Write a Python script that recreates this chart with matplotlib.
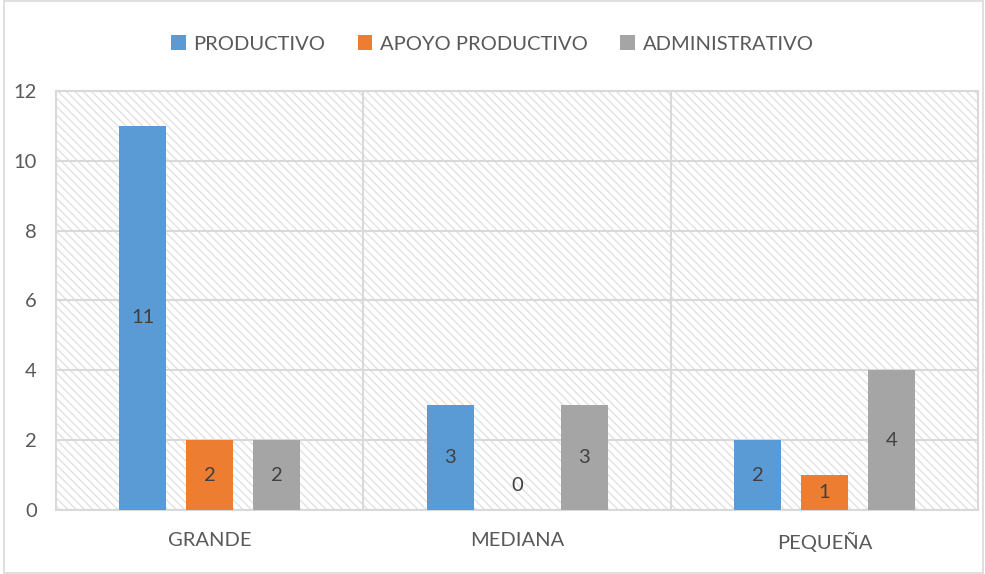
import numpy as np
import matplotlib
matplotlib.use('Agg')
import matplotlib.pyplot as plt
from matplotlib.patches import Rectangle

categories = ['GRANDE', 'MEDIANA', 'PEQUEÑA']
series = ['PRODUCTIVO', 'APOYO PRODUCTIVO', 'ADMINISTRATIVO']
productivo = [11, 3, 2]
apoyo = [2, 0, 1]
administrativo = [2, 3, 4]
colors = ['#5b9bd5', '#ed7d31', '#a5a5a5']

plt.rcParams['font.family'] = ['Lato', 'DejaVu Sans']
plt.rcParams['hatch.linewidth'] = 1.0

fig = plt.figure(figsize=(9.85, 5.74), dpi=100)
fig.patches.append(Rectangle((0.004, 0.001), 0.994, 0.997, transform=fig.transFigure,
                             fill=False, edgecolor='#d9d9d9', linewidth=1.2))
ax = fig.add_axes([0.057, 0.1115, 0.936, 0.73])

grid_c = '#d9d9d9'
text_c = '#595959'

# hatched plot area
ax.add_patch(Rectangle((0, 0), 1, 1, transform=ax.transAxes, facecolor='white',
                       edgecolor='#e2e2e2', hatch='\\\\\\\\', linewidth=0, zorder=0))

x = np.arange(len(categories))
offset = 0.218
width = 0.153
data = [productivo, apoyo, administrativo]
for j, (vals, name, c) in enumerate(zip(data, series, colors)):
    bars = ax.bar(x + (j - 1) * offset, vals, width, color=c, label=name, zorder=3)
    for b, v in zip(bars, vals):
        yy = v / 2 if v > 0 else 0.7
        ax.text(b.get_x() + b.get_width() / 2, yy, str(v), ha='center', va='center',
                fontsize=14.5, color='#404040', zorder=4)

ax.set_xlim(-0.5, 2.5)
ax.set_ylim(0, 12)
ax.set_yticks(range(0, 13, 2))
ax.set_xticks(x)
ax.set_xticklabels(categories)
ax.set_axisbelow(True)
ax.yaxis.grid(True, color=grid_c, linewidth=1.5, zorder=1)
for xb in [0.5, 1.5]:
    ax.axvline(xb, color=grid_c, linewidth=1.5, zorder=1)
for s in ax.spines.values():
    s.set_color(grid_c)
    s.set_linewidth(1.5)
ax.tick_params(axis='both', length=0, colors=text_c, labelsize=14.5)
ax.tick_params(axis='x', pad=16)
ax.tick_params(axis='y', pad=14)

fig.legend(loc='upper center', bbox_to_anchor=(0.5, 0.97), ncol=3, frameon=False,
           fontsize=14.5, labelcolor=text_c, handlelength=0.72, handleheight=0.72,
           columnspacing=1.6, handletextpad=0.4)

fig.savefig('out.png', dpi=100)
